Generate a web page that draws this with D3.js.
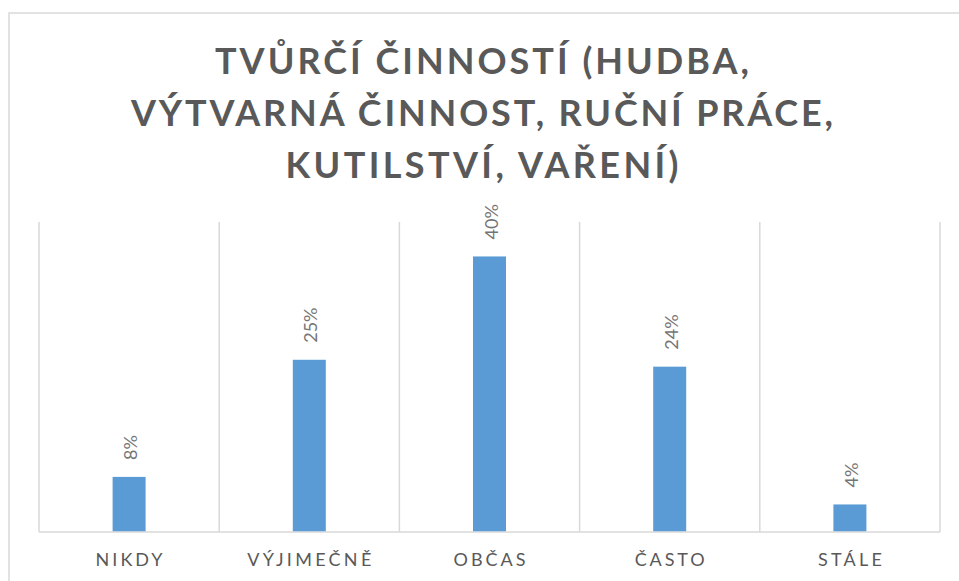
<!DOCTYPE html>
<html>
<head>
<meta charset="utf-8">
<script src="https://cdn.jsdelivr.net/npm/d3@7"></script>
<style>
  html, body { margin: 0; padding: 0; background: #fff; }
  svg { display: block; }
</style>
</head>
<body>
<svg id="chart" width="959" height="581"></svg>
<script>
const titleLines = ["TVŮRČÍ ČINNOSTÍ (HUDBA,", "VÝTVARNÁ ČINNOST, RUČNÍ PRÁCE,", "KUTILSTVÍ, VAŘENÍ)"];
const categories = ["NIKDY", "VÝJIMEČNĚ", "OBČAS", "ČASTO", "STÁLE"];
const values = [8, 25, 40, 24, 4];
const yMax = 45;

const svg = d3.select("#chart");
const W = 959, H = 581;
const plot = { left: 39, right: 940, top: 222, bottom: 532 };

// outer chart border
svg.append("rect")
  .attr("x", 9).attr("y", 13)
  .attr("width", 980).attr("height", 600)
  .attr("fill", "#fff").attr("stroke", "#D9D9D9").attr("stroke-width", 1.5);

// title
const titleWidths = [534, 702, 393];
const titleG = svg.append("g");
titleLines.forEach((t, i) => {
  titleG.append("text")
    .attr("x", 482).attr("y", 74 + i * 52)
    .attr("text-anchor", "middle")
    .attr("font-family", "Lato, 'Open Sans', sans-serif")
    .attr("font-weight", "bold")
    .attr("font-size", 36)
    .attr("fill", "#595959")
    .attr("textLength", titleWidths[i])
    .attr("lengthAdjust", "spacing")
    .text(t);
});

const x = d3.scaleBand().domain(categories).range([plot.left, plot.right]).paddingInner(0).paddingOuter(0);
const y = d3.scaleLinear().domain([0, yMax]).range([plot.bottom, plot.top]);

// vertical category gridlines
const bounds = categories.map(c => x(c)).concat([plot.right]);
svg.append("g").selectAll("line").data(bounds).join("line")
  .attr("x1", d => d).attr("x2", d => d)
  .attr("y1", plot.top).attr("y2", plot.bottom)
  .attr("stroke", "#D9D9D9").attr("stroke-width", 1.5);

// baseline axis
svg.append("line")
  .attr("x1", plot.left).attr("x2", plot.right)
  .attr("y1", plot.bottom).attr("y2", plot.bottom)
  .attr("stroke", "#D9D9D9").attr("stroke-width", 1.5);

// bars
const barW = 33;
svg.append("g").selectAll("rect").data(values).join("rect")
  .attr("x", (d, i) => x(categories[i]) + x.bandwidth() / 2 - barW / 2)
  .attr("y", d => y(d))
  .attr("width", barW)
  .attr("height", d => plot.bottom - 0.75 - y(d))
  .attr("fill", "#5B9BD5");

// data labels (rotated)
svg.append("g").selectAll("text").data(values).join("text")
  .attr("transform", (d, i) => `translate(${x(categories[i]) + x.bandwidth() / 2 + 1},${y(d) - 17}) rotate(-90)`)
  .attr("text-anchor", "start")
  .attr("dominant-baseline", "central")
  .attr("font-family", "Lato, 'Open Sans', sans-serif")
  .attr("font-size", 18)
  .attr("fill", "#757575")
  .text(d => d + "%");

// category labels
const catWidths = [67, 124, 72, 70, 64];
svg.append("g").selectAll("text").data(categories).join("text")
  .attr("x", d => x(d) + x.bandwidth() / 2)
  .attr("y", 566)
  .attr("text-anchor", "middle")
  .attr("font-family", "Lato, 'Open Sans', sans-serif")
  .attr("font-size", 18)
  .attr("fill", "#595959")
  .attr("textLength", (d, i) => catWidths[i])
  .attr("lengthAdjust", "spacing")
  .text(d => d);
</script>
</body>
</html>
